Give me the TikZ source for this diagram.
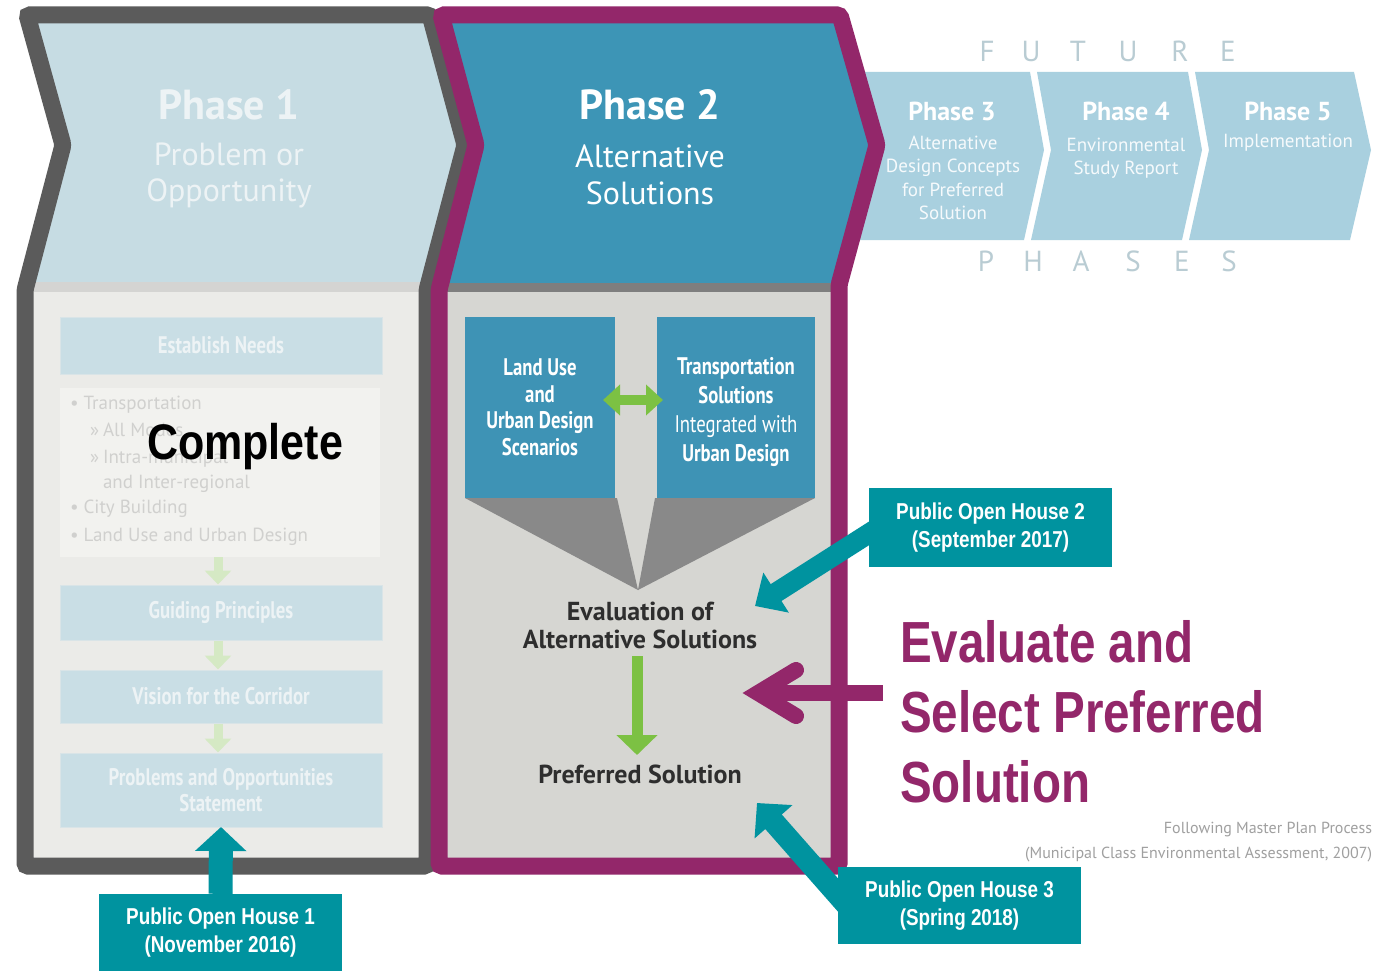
\documentclass[tikz,border=0pt]{standalone}
\usepackage{fontspec}
\setmainfont{Liberation Sans}
\newfontfamily\arn[FakeStretch=0.82]{Liberation Sans}
\newfontfamily\arnc[FakeStretch=0.86]{Liberation Sans}
\newfontfamily\pts{PT Sans}
\newfontfamily\ptsn[FakeStretch=0.78]{PT Sans}
\usetikzlibrary{arrows.meta,calc}
\definecolor{cteal}{HTML}{00939F}
\definecolor{cplum}{HTML}{93276A}
\definecolor{cborder}{HTML}{5B5B5B}
\definecolor{cponetop}{HTML}{C6DCE3}
\definecolor{cponelow}{HTML}{EBEBE8}
\definecolor{cponestrip}{HTML}{D4D4D2}
\definecolor{cptwotop}{HTML}{3D95B6}
\definecolor{cptwolow}{HTML}{D6D6D2}
\definecolor{cptwostrip}{HTML}{7E7E7E}
\definecolor{cfut}{HTML}{A9D0DF}
\definecolor{cfuttxt}{HTML}{B9CCD3}
\definecolor{cfunnel}{HTML}{898989}
\definecolor{cgreen}{HTML}{7CC143}
\definecolor{cfadegreen}{HTML}{D5E9C4}
\definecolor{cfadebox}{HTML}{C9DEE5}
\definecolor{cfadeline}{HTML}{D9E4E7}
\definecolor{cfadetxt}{HTML}{EDF3F5}
\definecolor{clistbg}{HTML}{F2F2EF}
\definecolor{clisttxt}{HTML}{D0D0CE}
\definecolor{cbluebox}{HTML}{3E93B5}
\definecolor{cdark}{HTML}{2E2E2E}
\definecolor{cnote}{HTML}{A0A0A0}
\begin{document}
\begin{tikzpicture}[x=1pt,y=-1pt,
  lbl/.style={inner sep=0pt, outer sep=0pt},
  ohbox/.style={fill=cteal, text=white, font=\arn\bfseries\fontsize{23}{28}\selectfont,
    align=center, minimum width=243pt, minimum height=78pt, inner sep=0pt},
  fbox/.style={fill=cfadebox, draw=cfadeline, line width=1pt, text=cfadetxt,
    font=\ptsn\bfseries\fontsize{24}{26}\selectfont, align=center,
    minimum width=322pt, inner sep=0pt},
  fut/.style={fill=cfut},
  futl/.style={lbl, text=cfuttxt, font=\pts\fontsize{29}{29}\selectfont},
  phtitle/.style={lbl, text=white, font=\pts\bfseries\fontsize{26}{26}\selectfont},
  phsub/.style={lbl, text=white!90!cfut, font=\pts\fontsize{19}{23.5}\selectfont, align=center},
  listitem/.style={lbl, anchor=base west, text=clisttxt, font=\pts\fontsize{19}{22}\selectfont},
  bluebox/.style={fill=cbluebox, text=white, font=\ptsn\bfseries\fontsize{24}{26.5}\selectfont,
    align=center, minimum height=181pt, inner sep=0pt},
  tarrow/.style={draw=cteal, line width=#1},
  garrow/.style={draw=cgreen, line width=#1},
  farrow/.style={draw=cfadegreen, line width=9pt, -{Triangle[length=14pt,width=26pt]}},
]
\fill[white] (0,0) rectangle (1381,971);
\useasboundingbox (0,0) rectangle (1381,971);

% ---------- future phases ----------
\fill[fut] (858,72) -- (1030,72) -- (1044,150) -- (1024,240) -- (858,240) -- cycle;
\fill[fut] (1037,72) -- (1188,72) -- (1202,150) -- (1182,240) -- (1031,240) -- (1051,150) -- cycle;
\fill[fut] (1195,72) -- (1354,72) -- (1371,150) -- (1350,240) -- (1189,240) -- (1209,150) -- cycle;
\node[phtitle] (p3t) at (952,111) {Phase 3};
\node[phsub] (p3s) at (953,178) {Alternative\\Design Concepts\\for Preferred\\Solution};
\node[phtitle] (p4t) at (1126,111) {Phase 4};
\node[phsub] (p4s) at (1126,158) {Environmental\\Study Report};
\node[phtitle] (p5t) at (1288,111) {Phase 5};
\node[phsub] (p5s) at (1288,143) {Implementation};
\foreach \ch/\xx [count=\i] in {F/987,U/1031,T/1078,U/1128,R/1180,E/1228}
  \node[futl] (fut\i) at (\xx,51) {\ch};
\foreach \ch/\xx [count=\i] in {P/986,H/1033,A/1081,S/1133,E/1182,S/1229}
  \node[futl] (phs\i) at (\xx,261) {\ch};

% ---------- phase 1 fill ----------
\fill[cponetop] (27,15) -- (430,15) -- (465,145) -- (427,290) -- (427,866) -- (25,866) -- (25,290) -- (63,145) -- cycle;
\fill[cponelow] (25,290) rectangle (427,866);
\fill[cponestrip] (25,282) rectangle (427,292);
% ---------- phase 2 fill ----------
\fill[cptwotop] (441,15) -- (840,15) -- (877,145) -- (839,285) -- (839,866) -- (439,866) -- (439,290) -- (476,145) -- cycle;
\fill[cptwolow] (439,290) rectangle (839,866);
\fill[cptwostrip] (439,283) rectangle (839,292);

% ---------- phase 1 content ----------
\node[lbl, text=cfadetxt, font=\pts\bfseries\fontsize{42}{42}\selectfont] (p1t) at (229,105) {Phase 1};
\node[lbl, text=cfadetxt, font=\pts\fontsize{32}{36}\selectfont, align=center] (p1s) at (229,175) {Problem or\\Opportunity};
\node[fbox, minimum height=57pt] (needs) at (221,345.5) {Establish Needs};
\fill[clistbg] (60,388) rectangle (380,557);
\node[listitem] (l1) at (70,409) {•\hspace{5pt}Transportation};
\node[listitem] (l2) at (90,436) {»\hspace{4pt}All Modes};
\node[listitem] (l3) at (90,463) {»\hspace{4pt}Intra-municipal};
\node[listitem] (l4) at (103,488) {and Inter-regional};
\node[listitem] (l5) at (70,513) {•\hspace{5pt}City Building};
\node[listitem] (l6) at (70,541) {•\hspace{5pt}Land Use and Urban Design};
\node[fbox, minimum height=55pt] (guide) at (221,612.5) {Guiding Principles};
\node[fbox, minimum height=53pt] (vision) at (221,696.5) {Vision for the Corridor};
\node[fbox, minimum height=74pt] (probs) at (221,790) {Problems and Opportunities\\Statement};
\draw[farrow] (218,557) -- (guide.north -| 218,0);
\draw[farrow] (guide.south -| 218,0) -- (vision.north -| 218,0);
\draw[farrow] (vision.south -| 218,0) -- (probs.north -| 218,0);
\node[lbl, text=black, font=\arnc\bfseries\fontsize{50}{50}\selectfont] (complete) at (245,447) {Complete};

% ---------- phase 2 content ----------
\node[lbl, text=white, font=\pts\bfseries\fontsize{42}{42}\selectfont] (p2t) at (650,105) {Phase 2};
\node[lbl, text=white, font=\pts\fontsize{32}{37}\selectfont, align=center] (p2s) at (650,175) {Alternative\\Solutions};
\fill[cfunnel] (465,498) -- (617,498) -- (638,590) -- cycle;
\fill[cfunnel] (655,498) -- (815,498) -- (638,590) -- cycle;
\node[bluebox, minimum width=150pt] (lu) at (540,407.5) {Land Use\\and\\Urban Design\\Scenarios};
\node[bluebox, minimum width=158pt] (ts) at (736,407.5) {};
\node[lbl, text=white, font=\ptsn\bfseries\fontsize{24}{29}\selectfont, align=center] (tstxt) at (736,412)
  {Transportation\\Solutions\\\mdseries Integrated with\\Urban Design};
\coordinate (dal) at (603,400);
\coordinate (dar) at (663,400);
\draw[garrow=10pt, {Triangle[length=17pt,width=30pt]}-{Triangle[length=17pt,width=30pt]}] (dal) -- (dar);
\node[lbl, text=cdark, font=\pts\bfseries\fontsize{26}{28}\selectfont, align=center] (evalt) at (640,625) {Evaluation of\\Alternative Solutions};
\node[lbl, text=cdark, font=\pts\bfseries\fontsize{26}{27}\selectfont] (pref) at (640,774) {Preferred Solution};
\coordinate (ga) at (637,656);
\coordinate (gb) at (637,755);
\draw[garrow=11pt, -{Triangle[length=20pt,width=40pt]}] (ga) -- (gb);

% ---------- borders ----------
\draw[cborder, line width=17pt, rounded corners=3pt] (27,15) -- (430,15) -- (465,145) -- (427,290) -- (427,866) -- (25,866) -- (25,290) -- (63,145) -- cycle;
\draw[cplum, line width=17pt, rounded corners=3pt] (441,15) -- (840,15) -- (877,145) -- (839,285) -- (839,866) -- (439,866) -- (439,290) -- (476,145) -- cycle;

% ---------- note ----------
\node[lbl, anchor=east, text=cnote, font=\pts\fontsize{16}{25}\selectfont, align=right] (note) at (1372,842)
  {Following Master Plan Process\\(Municipal Class Environmental Assessment, 2007)};

% ---------- public open house boxes ----------
\node[ohbox, minimum height=77pt] (oh1) at (220.5,932.5) {Public Open House 1\\(November 2016)};
\node[ohbox, minimum height=79pt] (oh2) at (990.5,527.5) {Public Open House 2\\(September 2017)};
\node[ohbox, minimum height=77pt] (oh3) at (959.5,905.5) {Public Open House 3\\(Spring 2018)};
\coordinate (oh1tip) at (221,827);
\coordinate (oh2start) at (890,520);
\coordinate (oh2tip) at (755,606);
\coordinate (oh3start) at (860,920);
\coordinate (oh3tip) at (757,803);
\draw[tarrow=24pt, -{Triangle[length=24pt,width=50pt]}] (oh1.north) -- (oh1tip);
\draw[tarrow=20pt, -{Triangle[length=25pt,width=46pt]}] (oh2start) -- (oh2tip);
\draw[tarrow=22pt, -{Triangle[length=25pt,width=49pt]}] (oh3start) -- (oh3tip);

% ---------- evaluate text and purple arrow ----------
\node[lbl, anchor=north west, text=cplum, font=\arn\bfseries\fontsize{58}{70}\selectfont, align=left] (evaltxt) at (900,620)
  {Evaluate and\\Select Preferred\\Solution};
\coordinate (pstart) at (883,693);
\coordinate (pvert) at (758,693);
\draw[cplum, line width=16pt] (pstart) -- ($(pvert)+(6,0)$);
\draw[cplum, line width=16pt, line cap=round, miter limit=10] ($(pvert)+(38,-23)$) -- (pvert) -- ($(pvert)+(38,23)$);
\end{tikzpicture}
\end{document}
